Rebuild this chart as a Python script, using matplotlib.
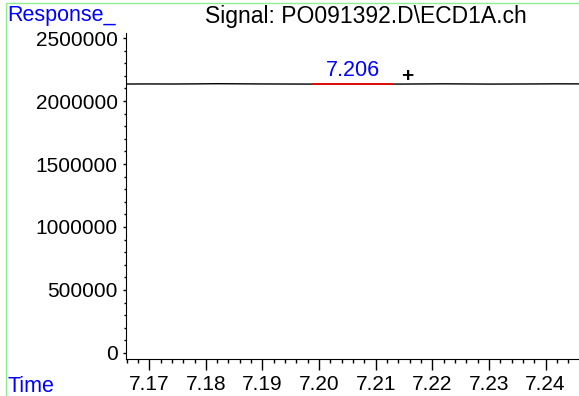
import matplotlib.pyplot as plt
from matplotlib.ticker import MultipleLocator, FormatStrFormatter
from matplotlib.patches import Rectangle

plt.rcParams['font.family'] = ['Liberation Sans', 'DejaVu Sans']

# Retention time (min) and detector response around the peak
times = [7.1659, 7.170, 7.174, 7.178, 7.182, 7.186, 7.190, 7.194, 7.198,
         7.202, 7.206, 7.210, 7.214, 7.218, 7.222, 7.226, 7.230, 7.234,
         7.238, 7.242, 7.2459]
response = [2135000, 2135500, 2135000, 2136000, 2137500, 2136500, 2135500,
            2135000, 2134500, 2135000, 2135500, 2135000, 2134500, 2135500,
            2136500, 2135500, 2134500, 2135000, 2135500, 2136500, 2136000]

# Integrated peak
peak_rt = 7.206
peak_start, peak_end = 7.1989, 7.2129
peak_level = 2135000

fig = plt.figure(figsize=(5.79, 3.96), dpi=100)
ax = fig.add_axes([126 / 579, 1 - 359 / 396, 1 - 126 / 579, (359 - 33) / 396])

ax.plot(times, response, color='black', linewidth=1.0)
ax.plot([peak_start, peak_end], [peak_level, peak_level], color='red', linewidth=1.2)
ax.text(peak_rt, peak_level + 22000, f'{peak_rt:.3f}', color='blue', fontsize=15.5,
        ha='center', va='bottom')
ax.text(7.2155, peak_level + 62000, '+', color='black', fontsize=15,
        fontweight='bold', ha='center', va='center')

ax.set_xlim(7.1659, 7.2459)
ax.set_ylim(-48000, 2540000)

ax.xaxis.set_major_locator(MultipleLocator(0.01))
ax.xaxis.set_minor_locator(MultipleLocator(0.002))
ax.xaxis.set_major_formatter(FormatStrFormatter('%.2f'))
ax.yaxis.set_major_locator(MultipleLocator(500000))
ax.yaxis.set_minor_locator(MultipleLocator(100000))
ax.yaxis.set_major_formatter(FormatStrFormatter('%d'))

ax.spines['top'].set_visible(False)
ax.spines['right'].set_visible(False)
ax.tick_params(axis='x', which='major', length=8, width=1, labelsize=15, pad=3.5)
ax.tick_params(axis='x', which='minor', length=3, width=1)
ax.tick_params(axis='y', which='major', length=2, width=1, labelsize=15, pad=4)
ax.tick_params(axis='y', which='minor', length=1.3, width=1)

fig.text(366 / 579, 1 - 17 / 396, 'Signal: PO091392.D\\ECD1A.ch', fontsize=16.5,
         ha='center', va='center')
fig.text(7 / 579, 1 - 15 / 396, 'Response_', fontsize=15.5, color='blue',
         ha='left', va='center')
fig.text(7 / 579, 1 - 386 / 396, 'Time', fontsize=15.5, color='blue',
         ha='left', va='center')

# Light green frame along the top and left edges
fig.patches.append(Rectangle((6 / 579, -0.1), 1.2, 1 - 3 / 396 + 0.1,
                             transform=fig.transFigure, fill=False,
                             edgecolor='#90ee90', linewidth=1))

fig.savefig('out.png', dpi=100)
